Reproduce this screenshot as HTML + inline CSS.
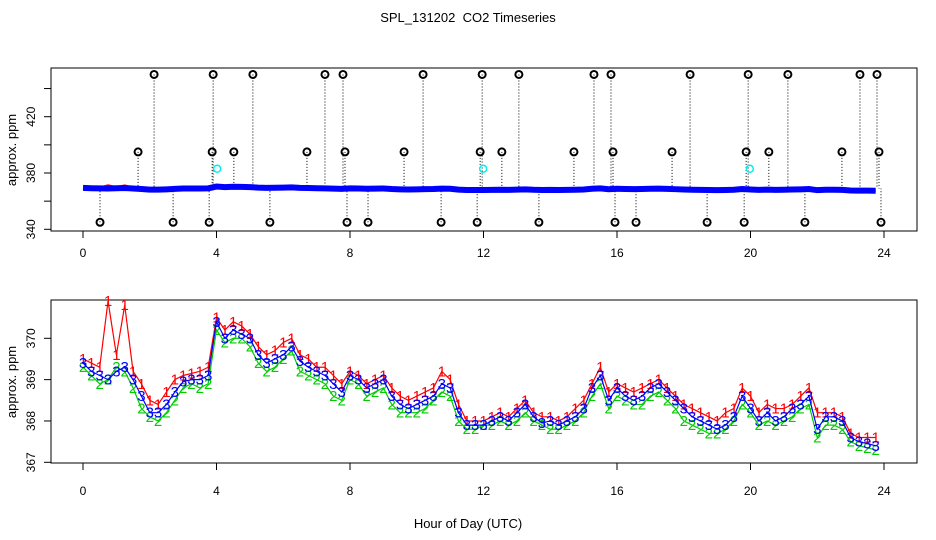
<!DOCTYPE html>
<html><head><meta charset="utf-8"><style>
body{margin:0;background:#fff}
svg{display:block;font-family:"Liberation Sans",sans-serif}
</style></head><body>
<svg id="c" width="936" height="540">
<text x="468" y="22" text-anchor="middle" font-size="13">SPL_131202 &#160;CO2 Timeseries</text>
<text x="468" y="528" text-anchor="middle" font-size="13">Hour of Day (UTC)</text>
<text transform="translate(16,150) rotate(-90)" text-anchor="middle" font-size="13">approx. ppm</text>
<text transform="translate(16,382) rotate(-90)" text-anchor="middle" font-size="13">approx. ppm</text>
<g id="gtop"></g>
<g id="gbot"></g>
</svg>
<script>
const hours=[];for(let i=0;i<96;i++)hours.push(i*0.25);
const s3=[369.4,369.2,369.1,369.0,369.2,369.3,369.0,368.6,368.2,368.2,368.4,368.7,368.95,369.0,369.0,369.1,
370.4,370.0,370.2,370.1,370.0,369.6,369.4,369.5,369.6,369.8,369.45,369.3,369.2,369.1,368.9,368.7,
369.1,369.0,368.8,368.9,369.0,368.6,368.4,368.3,368.4,368.5,368.6,368.9,368.8,368.2,367.9,367.9,
367.9,368.0,368.1,368.0,368.2,368.4,368.1,367.95,368.0,367.9,368.0,368.1,368.3,368.8,369.1,368.5,
368.8,368.6,368.5,368.6,368.8,368.9,368.7,368.5,368.3,368.1,368.0,367.9,367.8,367.9,368.1,368.6,
368.3,368.0,368.2,368.0,368.1,368.3,368.4,368.6,367.8,368.1,368.1,368.0,367.6,367.5,367.45,367.4];
const s1=[369.5,369.4,369.3,370.9,369.6,370.8,369.2,368.9,368.5,368.4,368.7,369.0,369.1,369.15,369.2,369.3,
370.5,370.2,370.4,370.3,370.1,369.8,369.6,369.7,369.9,370.0,369.6,369.5,369.3,369.3,369.1,368.9,
369.2,369.1,368.9,369.0,369.1,368.8,368.6,368.5,368.6,368.7,368.8,369.2,369.0,368.4,368.0,368.0,
368.0,368.1,368.2,368.1,368.3,368.5,368.2,368.1,368.1,368.0,368.1,368.3,368.5,368.9,369.3,368.7,
368.9,368.8,368.7,368.8,368.9,369.0,368.8,368.6,368.4,368.3,368.2,368.1,368.0,368.2,368.3,368.8,
368.6,368.2,368.4,368.3,368.3,368.4,368.6,368.8,368.2,368.2,368.2,368.1,367.7,367.6,367.6,367.6];
const s2=[369.3,369.1,368.9,369.0,369.3,369.2,368.8,368.3,368.1,368.0,368.2,368.5,368.8,368.9,368.8,368.9,
370.2,369.9,370.0,370.0,369.8,369.4,369.2,369.3,369.5,369.7,369.2,369.1,369.0,368.9,368.6,368.5,
369.0,368.9,368.6,368.7,368.8,368.4,368.2,368.2,368.2,368.3,368.5,368.7,368.6,368.0,367.8,367.8,
367.9,367.9,368.0,367.9,368.0,368.2,368.0,367.9,367.8,367.8,367.9,368.0,368.2,368.6,368.9,368.3,
368.6,368.5,368.4,368.4,368.6,368.7,368.5,368.3,368.0,367.9,367.8,367.7,367.7,367.8,368.0,368.4,
368.2,367.9,368.0,367.9,368.0,368.1,368.3,368.4,367.6,367.9,367.9,367.8,367.5,367.4,367.35,367.3];
const outHigh=[2.13,3.90,5.09,7.25,7.79,10.19,11.96,13.06,15.31,15.82,18.19,19.93,21.12,23.28,23.79];
const outMid=[1.65,3.87,4.52,6.71,7.85,9.62,11.90,12.55,14.71,15.88,17.65,19.87,20.55,22.74,23.85];
const outLow=[0.51,2.70,3.78,5.60,7.91,8.54,10.73,11.81,13.66,15.94,16.57,18.70,19.81,21.63,23.91];
const highVal=450, midVal=395, lowVal=345;
const cyanHours=[4.02,11.99,19.98];
const cyanVal=383;
const xTicks=[0,4,8,12,16,20,24];
const topYTicks=[340,360,380,400,420,440];
const topYLabels=[340,380,420];
const botYTicks=[367,368,369,370];

const NS="http://www.w3.org/2000/svg";
function mk(p,t,a){const e=document.createElementNS(NS,t);for(const k in a)e.setAttribute(k,a[k]);p.appendChild(e);return e;}
const X=h=>83+h*(884-83)/24;
const Yt=v=>229.3-(v-340)*(229.3-116.7)/80;
const Yb=v=>462.3-(v-367)*(462.3-338.3)/3;
const gTop=document.getElementById('gtop'),gBot=document.getElementById('gbot');

function frame(g,y0,y1,ty,pre){
  const r=mk(g,'rect',{x:51,y:y0,width:866,height:y1-y0,fill:'none',stroke:'#000'});
  
  
  xTicks.forEach(t=>{
    mk(g,'line',{x1:X(t),x2:X(t),y1:y1,y2:y1+7,stroke:'#000'});
    const tx=mk(g,'text',{x:X(t),y:ty,'text-anchor':'middle','font-size':12});tx.textContent=t;
    
    
  });
}
frame(gTop,68,231,257,'top');frame(gBot,300,463,495,'bottom');
topYTicks.forEach(v=>{mk(gTop,'line',{x1:44,x2:51,y1:Yt(v),y2:Yt(v),stroke:'#000'});});
topYLabels.forEach(v=>{const t=mk(gTop,'text',{transform:`translate(35,${Yt(v)}) rotate(-90)`,'text-anchor':'middle','font-size':12});t.textContent=v;

});
botYTicks.forEach(v=>{mk(gBot,'line',{x1:44,x2:51,y1:Yb(v),y2:Yb(v),stroke:'#000'});
const t=mk(gBot,'text',{transform:`translate(35,${Yb(v)}) rotate(-90)`,'text-anchor':'middle','font-size':12});t.textContent=v;

});

[[outHigh,highVal],[outMid,midVal],[outLow,lowVal]].forEach(([hs,v])=>{
  hs.forEach(h=>{
    mk(gTop,'line',{x1:X(h),x2:X(h),y1:Yt(v),y2:Yt(369),stroke:'#000','stroke-dasharray':'1,2'});
    const c=mk(gTop,'circle',{cx:X(h),cy:Yt(v),r:3.5,fill:'none',stroke:'#000','stroke-width':2});
    
    
  });
});
cyanHours.forEach(h=>{const c=mk(gTop,'circle',{cx:X(h),cy:Yt(cyanVal),r:3.5,fill:'none',stroke:'#0ee','stroke-width':1.5});

});
[[s1,'#f00'],[s2,'#0c0'],[s3,'#00f']].forEach(([s,col],k)=>{
  const pts=s.map((v,i)=>X(hours[i])+','+Yt(v)).join(' ');
  const p=mk(gTop,'polyline',{points:pts,fill:'none',stroke:col,'stroke-width':k==2?6:3});
  
  
});
const cols=['#f00','#0c0','#00f'];
[s1,s2,s3].forEach((s,k)=>{
  const pts=s.map((v,i)=>X(hours[i])+','+Yb(v)).join(' ');
  const p=mk(gBot,'polyline',{points:pts,fill:'none',stroke:cols[k],'stroke-width':1.2});
  
  
  s.forEach((v,i)=>{const t=mk(gBot,'text',{x:X(hours[i]),y:Yb(v)+5,'text-anchor':'middle','font-size':15,fill:cols[k]});t.textContent=String(k+1);
  
  });
});
</script>
</body></html>
